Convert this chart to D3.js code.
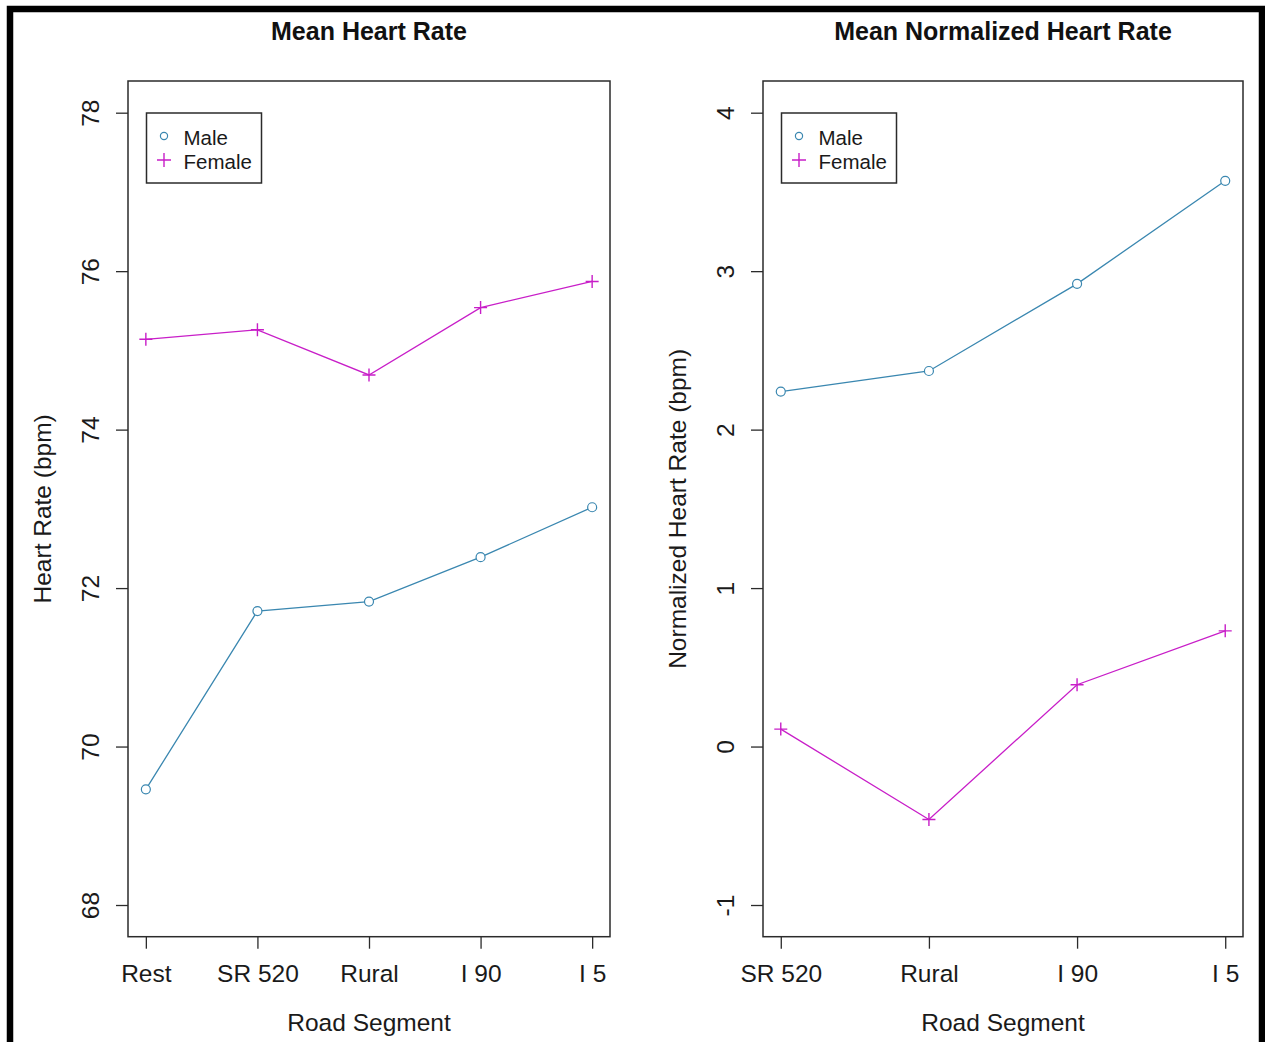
<!DOCTYPE html>
<html>
<head>
<meta charset="utf-8">
<script src="https://cdn.jsdelivr.net/npm/d3@7"></script>
<style>
  html, body { margin: 0; padding: 0; background: #fff; }
  svg { display: block; font-family: "Liberation Sans", Arial, sans-serif; }
</style>
</head>
<body>
<svg id="chart" width="1265" height="1042"></svg>
<script>
// Road segments and mean heart rates (bpm)
const segmentsHR = ["Rest", "SR 520", "Rural", "I 90", "I 5"];
const maleHR = [69.46, 71.71, 71.83, 72.39, 73.02];
const femaleHR = [75.14, 75.26, 74.69, 75.54, 75.87];
const hrTicks = [68, 70, 72, 74, 76, 78];

// Heart rate relative to the resting value (bpm)
const segmentsNorm = ["SR 520", "Rural", "I 90", "I 5"];
const maleNorm = [2.24, 2.37, 2.92, 3.57];
const femaleNorm = [0.11, -0.46, 0.39, 0.73];
const normTicks = [-1, 0, 1, 2, 3, 4];

const seriesNames = ["Male", "Female"];
const MALE_COLOR = "#3a87b0";
const FEMALE_COLOR = "#c81ec8";
const BOX_COLOR = "#2b2b2b";
const TEXT_COLOR = "#1a1a1a";

const svg = d3.select("#chart");

// Frame around the whole figure
svg.append("rect")
  .attr("x", 10).attr("y", 9)
  .attr("width", 1252).attr("height", 1060)
  .attr("fill", "none")
  .attr("stroke", "#000")
  .attr("stroke-width", 6.5);

function drawPanel(opt) {
  const { left, right, top, bottom, cats, male, female, ticks, title, ylab } = opt;
  const n = cats.length;
  const padX = 0.04 * (n - 1);
  const x = d3.scaleLinear()
    .domain([1 - padX, n + padX])
    .range([left, right]);
  const yMin = d3.min(ticks), yMax = d3.max(ticks);
  const padY = 0.04 * (yMax - yMin);
  const y = d3.scaleLinear()
    .domain([yMin - padY, yMax + padY])
    .range([bottom, top]);

  const g = svg.append("g");

  // x axis
  const xAxis = d3.axisBottom(x)
    .tickValues(d3.range(1, n + 1))
    .tickFormat(i => cats[i - 1])
    .tickSize(12)
    .tickPadding(0);
  const gx = g.append("g")
    .attr("transform", `translate(0,${bottom})`)
    .call(xAxis);
  gx.select(".domain").remove();
  gx.selectAll(".tick line").attr("stroke", BOX_COLOR).attr("stroke-width", 1.3);
  gx.selectAll(".tick text")
    .attr("y", 45).attr("dy", 0)
    .attr("fill", TEXT_COLOR)
    .style("font-size", "24.5px");

  // y axis with labels turned parallel to the axis (plain hyphen for negatives)
  const yAxis = d3.axisLeft(y)
    .tickValues(ticks)
    .tickFormat(d => String(d))
    .tickSize(12);
  const gy = g.append("g")
    .attr("transform", `translate(${left},0)`)
    .call(yAxis);
  gy.select(".domain").remove();
  gy.selectAll(".tick line").attr("stroke", BOX_COLOR).attr("stroke-width", 1.3);
  gy.selectAll(".tick text")
    .attr("x", 0).attr("y", 0).attr("dy", 0)
    .attr("text-anchor", "middle")
    .attr("transform", "translate(-29,0) rotate(-90)")
    .attr("fill", TEXT_COLOR)
    .style("font-size", "24.5px");

  // plot box
  g.append("rect")
    .attr("x", left).attr("y", top)
    .attr("width", right - left).attr("height", bottom - top)
    .attr("fill", "none")
    .attr("stroke", BOX_COLOR)
    .attr("stroke-width", 1.5);

  // titles
  const cx = (left + right) / 2;
  g.append("text")
    .attr("x", cx).attr("y", 40)
    .attr("text-anchor", "middle")
    .style("font-size", "25px").style("font-weight", "bold")
    .attr("fill", "#111")
    .text(title);
  g.append("text")
    .attr("x", cx).attr("y", 1031)
    .attr("text-anchor", "middle")
    .style("font-size", "24.5px")
    .attr("fill", TEXT_COLOR)
    .text("Road Segment");
  g.append("text")
    .attr("transform", `translate(${left - 77},${(top + bottom) / 2}) rotate(-90)`)
    .attr("text-anchor", "middle")
    .style("font-size", "24.5px")
    .attr("fill", TEXT_COLOR)
    .text(ylab);

  const line = d3.line()
    .x((d, i) => x(i + 1))
    .y(d => y(d));

  // male series: line with open circles
  g.append("path")
    .datum(male)
    .attr("d", line)
    .attr("fill", "none")
    .attr("stroke", MALE_COLOR)
    .attr("stroke-width", 1.3);
  g.selectAll(".male-pt")
    .data(male)
    .join("circle")
    .attr("class", "male-pt")
    .attr("cx", (d, i) => x(i + 1))
    .attr("cy", d => y(d))
    .attr("r", 4.5)
    .attr("fill", "#fff")
    .attr("stroke", MALE_COLOR)
    .attr("stroke-width", 1.2);

  // female series: line with plus marks
  g.append("path")
    .datum(female)
    .attr("d", line)
    .attr("fill", "none")
    .attr("stroke", FEMALE_COLOR)
    .attr("stroke-width", 1.3);
  const plus = 6.5;
  g.selectAll(".female-pt")
    .data(female)
    .join("path")
    .attr("class", "female-pt")
    .attr("d", (d, i) => {
      const px = x(i + 1), py = y(d);
      return `M${px - plus},${py}H${px + plus}M${px},${py - plus}V${py + plus}`;
    })
    .attr("stroke", FEMALE_COLOR)
    .attr("stroke-width", 1.4);

  // legend
  const lx = left + 18.5, ly = 113;
  const lg = g.append("g").attr("transform", `translate(${lx},${ly})`);
  lg.append("rect")
    .attr("width", 115).attr("height", 70)
    .attr("fill", "#fff")
    .attr("stroke", BOX_COLOR)
    .attr("stroke-width", 1.5);
  lg.append("circle")
    .attr("cx", 17.5).attr("cy", 23)
    .attr("r", 3.6)
    .attr("fill", "none")
    .attr("stroke", MALE_COLOR)
    .attr("stroke-width", 1.2);
  lg.append("path")
    .attr("d", "M10.5,47H24.5M17.5,40V54")
    .attr("stroke", FEMALE_COLOR)
    .attr("stroke-width", 1.4);
  lg.selectAll(".leg-label")
    .data(seriesNames)
    .join("text")
    .attr("class", "leg-label")
    .attr("x", 37)
    .attr("y", (d, i) => 32 + i * 24)
    .style("font-size", "20.5px")
    .attr("fill", TEXT_COLOR)
    .text(d => d);
}

drawPanel({
  left: 128, right: 610, top: 81, bottom: 936.7,
  cats: segmentsHR, male: maleHR, female: femaleHR, ticks: hrTicks,
  title: "Mean Heart Rate", ylab: "Heart Rate (bpm)"
});

drawPanel({
  left: 763, right: 1243, top: 81, bottom: 936.7,
  cats: segmentsNorm, male: maleNorm, female: femaleNorm, ticks: normTicks,
  title: "Mean Normalized Heart Rate", ylab: "Normalized Heart Rate (bpm)"
});
</script>
</body>
</html>
